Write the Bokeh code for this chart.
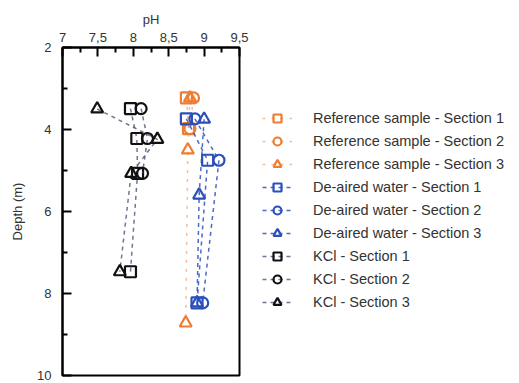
from bokeh.plotting import figure
from bokeh.models import FixedTicker, Legend, LegendItem
from bokeh.embed import file_html
from bokeh.resources import INLINE

# ---- data (depth in m, pH) ----
ref_s1_depth = [3.23, 3.98]
ref_s1_ph = [8.75, 8.78]
ref_s2_depth = [3.23, 3.98]
ref_s2_ph = [8.85, 8.8]
ref_s3_depth = [3.23, 4.5, 8.72]
ref_s3_ph = [8.8, 8.77, 8.74]

dw_s1_depth = [3.74, 4.75, 8.23]
dw_s1_ph = [8.75, 9.05, 8.9]
dw_s2_depth = [3.74, 4.75, 8.23]
dw_s2_ph = [8.87, 9.21, 8.98]
dw_s3_depth = [3.75, 5.6, 8.23]
dw_s3_ph = [9.0, 8.93, 8.9]

kcl_s1_depth = [3.49, 4.22, 5.07, 7.47]
kcl_s1_ph = [7.96, 8.05, 8.06, 7.96]
kcl_s2_depth = [3.49, 4.22, 5.07]
kcl_s2_ph = [8.11, 8.2, 8.13]
kcl_s3_depth = [3.5, 4.24, 5.07, 7.47]
kcl_s3_ph = [7.49, 8.34, 7.97, 7.81]

series_labels = [
    "Reference sample - Section 1", "Reference sample - Section 2", "Reference sample - Section 3",
    "De-aired water - Section 1", "De-aired water - Section 2", "De-aired water - Section 3",
    "KCl - Section 1", "KCl - Section 2", "KCl - Section 3",
]

x_ticks = [7, 7.5, 8, 8.5, 9, 9.5]
x_tick_labels = ["7", "7,5", "8", "8,5", "9", "9,5"]
x_minor_ticks = [7.25, 7.75, 8.25, 8.75, 9.25]
y_ticks = [2, 4, 6, 8, 10]
y_tick_labels = ["2", "4", "6", "8", "10"]
y_minor_ticks = [3, 5, 7, 9]

ORANGE = "#ee7d32"
BLUE = "#2b4fbb"
BLACK = "#111111"
FONT = "Liberation Sans"

p = figure(frame_width=177, frame_height=328, x_range=(7, 9.5), y_range=(10, 2),
           x_axis_location="above", toolbar_location=None, output_backend="svg",
           min_border_left=62, min_border_right=272, min_border_top=47, min_border_bottom=8)
p.grid.visible = False
p.outline_line_color = "black"
p.outline_line_width = 2

p.xaxis.ticker = FixedTicker(ticks=x_ticks, minor_ticks=x_minor_ticks)
p.xaxis.major_label_overrides = {t: l for t, l in zip(x_ticks, x_tick_labels)}
p.yaxis.ticker = FixedTicker(ticks=y_ticks, minor_ticks=y_minor_ticks)
p.yaxis.major_label_overrides = {t: l for t, l in zip(y_ticks, y_tick_labels)}
p.xaxis.axis_label = "pH"
p.yaxis.axis_label = "Depth (m)"

for ax in (p.xaxis[0], p.yaxis[0]):
    ax.axis_line_width = 2
    ax.major_tick_in = 9
    ax.major_tick_out = 0
    ax.minor_tick_in = 5
    ax.minor_tick_out = 0
    ax.major_tick_line_width = 2
    ax.minor_tick_line_width = 2
    ax.major_label_text_font = FONT
    ax.major_label_text_font_size = "13px"
    ax.major_label_text_color = "#333333"
    ax.axis_label_text_font = FONT
    ax.axis_label_text_font_size = "13px"
    ax.axis_label_text_font_style = "normal"
    ax.axis_label_text_color = "#333333"
p.xaxis.major_label_standoff = 6
p.xaxis.axis_label_standoff = 3
p.yaxis.major_label_standoff = 11
p.yaxis.axis_label_standoff = 9

series = [
    (ref_s1_ph, ref_s1_depth, ORANGE, "square", 0.5, "3 6"),
    (ref_s2_ph, ref_s2_depth, ORANGE, "circle", 0.5, "3 6"),
    (ref_s3_ph, ref_s3_depth, ORANGE, "triangle", 0.5, "3 6"),
    (dw_s1_ph, dw_s1_depth, BLUE, "square", 0.85, "4 4"),
    (dw_s2_ph, dw_s2_depth, BLUE, "circle", 0.85, "4 4"),
    (dw_s3_ph, dw_s3_depth, BLUE, "triangle", 0.85, "4 4"),
    (kcl_s1_ph, kcl_s1_depth, BLACK, "square", 0.8, "4 4"),
    (kcl_s2_ph, kcl_s2_depth, BLACK, "circle", 0.8, "4 4"),
    (kcl_s3_ph, kcl_s3_depth, BLACK, "triangle", 0.8, "4 4"),
]

items = []
for (xs, ys, col, mk, la, dash), lab in zip(series, series_labels):
    lc = "#4a5478" if col == BLACK else col
    lr = p.line(xs, ys, line_color=lc, line_width=1.5, line_dash=dash, line_alpha=la)
    sz = 12 if mk == "triangle" else 11
    sr = p.scatter(xs, ys, marker=mk, size=sz, fill_color=None, line_color=col, line_width=2.2)
    items.append(LegendItem(label=lab, renderers=[lr, sr]))

legend = Legend(items=items, location=(23, 63), orientation="vertical",
                border_line_color=None, background_fill_alpha=0,
                padding=0, margin=0, spacing=3, glyph_width=30, glyph_height=20,
                label_height=20, label_standoff=21,
                label_text_font=FONT, label_text_font_size="14.5px", label_text_color="#333333")
p.add_layout(legend, "right")

open("out.html", "w").write(file_html(p, INLINE))
